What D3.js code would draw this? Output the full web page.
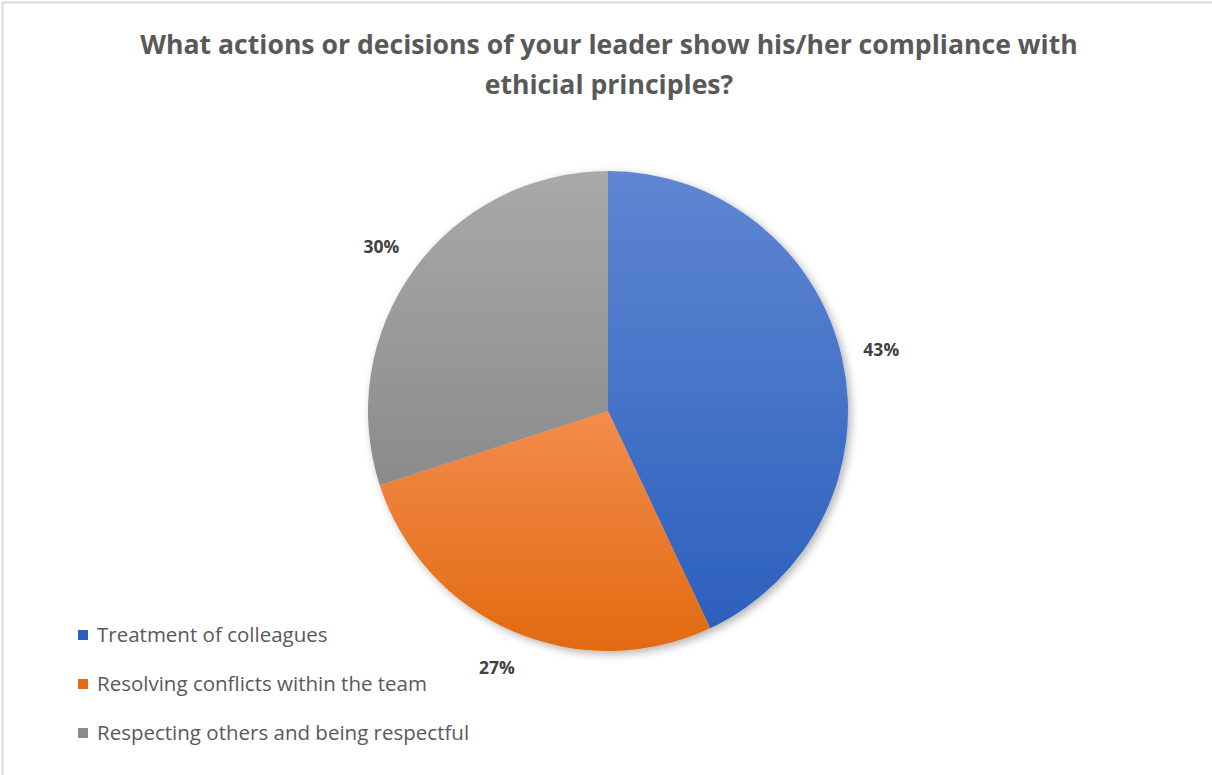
<!DOCTYPE html>
<html>
<head>
<meta charset="utf-8">
<script src="https://cdn.jsdelivr.net/npm/d3@7"></script>
<style>
  body { margin: 0; background: #fff; }
</style>
</head>
<body>
<div id="chart"></div>
<script>
var categories = ["Treatment of colleagues", "Resolving conflicts within the team", "Respecting others and being respectful"];
var values = [43, 27, 30];
var colorsTop = ["#5f86d2", "#f38c4c", "#a9a9a9"];
var colorsBottom = ["#2c60bd", "#e26a10", "#8b8b8b"];
var titleLines = ["What actions or decisions of your leader show his/her compliance with", "ethicial principles?"];

var width = 1212, height = 775;
var cx = 608, cy = 411, radius = 240;

var svg = d3.select("#chart")
    .append("svg")
    .attr("width", width)
    .attr("height", height);

// chart border (only top/left visible in the crop)
svg.append("rect")
    .attr("x", 2.5).attr("y", 2.5)
    .attr("width", width + 10).attr("height", height + 10)
    .attr("fill", "none")
    .attr("stroke", "#d9d9d9")
    .attr("stroke-width", 2);

var defs = svg.append("defs");

var shadow = defs.append("filter")
    .attr("id", "shadow")
    .attr("x", "-10%").attr("y", "-10%")
    .attr("width", "130%").attr("height", "130%");
shadow.append("feDropShadow")
    .attr("dx", 3).attr("dy", 3)
    .attr("stdDeviation", 4)
    .attr("flood-color", "#000")
    .attr("flood-opacity", 0.3);

categories.forEach(function(c, i) {
    var g = defs.append("linearGradient")
        .attr("id", "grad" + i)
        .attr("x1", 0).attr("y1", 0)
        .attr("x2", 0).attr("y2", 1);
    g.append("stop").attr("offset", "0%").attr("stop-color", colorsTop[i]);
    g.append("stop").attr("offset", "100%").attr("stop-color", colorsBottom[i]);
});

// title
svg.append("g")
    .selectAll("text")
    .data(titleLines)
    .enter()
    .append("text")
    .attr("x", 609)
    .attr("y", function(d, i) { return 54 + i * 40; })
    .attr("text-anchor", "middle")
    .style("font-family", "'Open Sans', sans-serif")
    .style("font-weight", "bold")
    .style("font-size", "26.6px")
    .style("fill", "#595959")
    .text(function(d) { return d; });

var pie = d3.pie().sort(null).value(function(d) { return d; });
var arcs = pie(values);

var arc = d3.arc().innerRadius(0).outerRadius(radius);
var labelArc = d3.arc().innerRadius(280).outerRadius(280);

var g = svg.append("g")
    .attr("transform", "translate(" + cx + "," + cy + ")");

g.append("g")
    .attr("filter", "url(#shadow)")
    .selectAll("path")
    .data(arcs)
    .enter()
    .append("path")
    .attr("d", arc)
    .attr("fill", function(d, i) { return "url(#grad" + i + ")"; });

var total = d3.sum(values);
g.selectAll(".lbl")
    .data(arcs)
    .enter()
    .append("text")
    .attr("class", "lbl")
    .attr("transform", function(d) { return "translate(" + labelArc.centroid(d) + ")"; })
    .attr("text-anchor", "middle")
    .attr("dy", "0.35em")
    .style("font-family", "'Open Sans', sans-serif")
    .style("font-weight", "bold")
    .style("font-size", "17.5px")
    .style("fill", "#404040")
    .text(function(d) { return Math.round(d.value / total * 100) + "%"; });

// legend
var legend = svg.append("g")
    .selectAll("g")
    .data(categories)
    .enter()
    .append("g")
    .attr("transform", function(d, i) { return "translate(78," + (635 + i * 49) + ")"; });

legend.append("rect")
    .attr("x", 0).attr("y", -5)
    .attr("width", 10).attr("height", 10)
    .attr("fill", function(d, i) { return colorsBottom[i]; });

legend.append("text")
    .attr("x", 19)
    .attr("dy", "0.35em")
    .style("font-family", "'Open Sans', sans-serif")
    .style("font-size", "20.5px")
    .style("fill", "#595959")
    .text(function(d) { return d; });
</script>
</body>
</html>
